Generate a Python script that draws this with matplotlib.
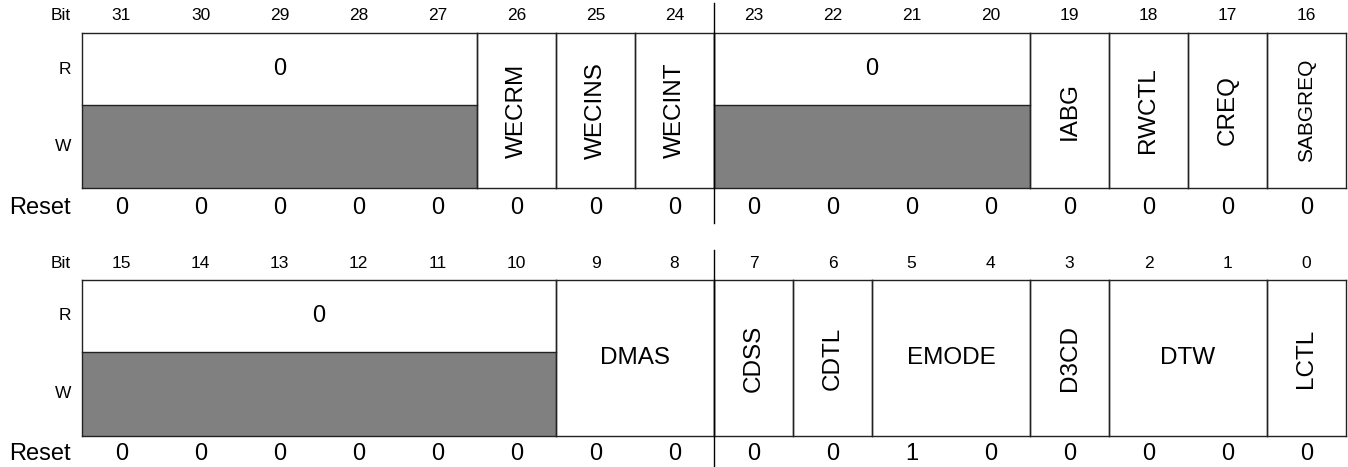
import matplotlib
matplotlib.use("Agg")
import matplotlib.pyplot as plt
from matplotlib.patches import Rectangle

plt.rcParams['font.family'] = ['Liberation Sans', 'DejaVu Sans']

# register fields, high half (bits 31..16)
hi_names = ["0", "WECRM", "WECINS", "WECINT", "0", "IABG", "RWCTL", "CREQ", "SABGREQ"]
hi_msb = [31, 26, 25, 24, 23, 19, 18, 17, 16]
hi_lsb = [27, 26, 25, 24, 20, 19, 18, 17, 16]
hi_reset = [0, 0, 0, 0, 0, 0, 0, 0, 0, 0, 0, 0, 0, 0, 0, 0]

# register fields, low half (bits 15..0)
lo_names = ["0", "DMAS", "CDSS", "CDTL", "EMODE", "D3CD", "DTW", "LCTL"]
lo_msb = [15, 9, 7, 6, 5, 3, 2, 0]
lo_lsb = [10, 8, 7, 6, 4, 3, 1, 0]
lo_reset = [0, 0, 0, 0, 0, 0, 0, 0, 0, 0, 1, 0, 0, 0, 0, 0]

X0 = 82
CW = 79
LINE = '#222222'
GRAY = '#808080'


def draw_register(ax, top_bit, names, msbs, lsbs, resets, ys):
    bit_y, top, mid, bot, reset_y, sep0, sep1 = ys

    def col_left(bit):
        return X0 + (top_bit - bit) * CW

    x_right = col_left(top_bit - 15) + CW

    # bit numbers and reset values
    for i in range(16):
        bit = top_bit - i
        cx = col_left(bit) + CW / 2
        ax.text(cx, bit_y, str(bit), ha='center', va='center', fontsize=12.5)
        ax.text(cx, reset_y, str(resets[i]), ha='center', va='center', fontsize=17)

    # row labels
    ax.text(71, bit_y, "Bit", ha='right', va='center', fontsize=12.5)
    ax.text(71, (top + mid) / 2, "R", ha='right', va='center', fontsize=12.5)
    ax.text(71, (mid + bot) / 2, "W", ha='right', va='center', fontsize=12.5)
    ax.text(71, reset_y, "Reset", ha='right', va='center', fontsize=17)

    for name, msb, lsb in zip(names, msbs, lsbs):
        x0 = col_left(msb)
        x1 = col_left(lsb) + CW
        cx = (x0 + x1) / 2
        if name == "0":
            ax.add_patch(Rectangle((x0, mid), x1 - x0, bot - mid,
                                   facecolor=GRAY, edgecolor='none'))
            ax.plot([x0, x1], [mid, mid], color=LINE, lw=1.0)
            ax.text(cx, (top + mid) / 2, "0", ha='center', va='center', fontsize=17)
        else:
            rot = 90 if msb == lsb else 0
            fs = 17.5 if len(name) <= 6 else 15
            ax.text(cx, (top + bot) / 2, name, ha='center', va='center',
                    rotation=rot, fontsize=fs)
        ax.plot([x0, x0], [top, bot], color=LINE, lw=1.0)
        ax.plot([x1, x1], [top, bot], color=LINE, lw=1.0)

    ax.plot([X0, x_right], [top, top], color=LINE, lw=1.0)
    ax.plot([X0, x_right], [bot, bot], color=LINE, lw=1.0)

    # byte separator
    xs = col_left(top_bit - 8)
    ax.plot([xs, xs], [sep0, sep1], color='black', lw=1.0)


fig = plt.figure(figsize=(13.48, 4.67), dpi=100)
ax = fig.add_axes([0, 0, 1, 1])
ax.set_xlim(0, 1348)
ax.set_ylim(467, 0)
ax.axis('off')

draw_register(ax, 31, hi_names, hi_msb, hi_lsb, hi_reset,
              (15, 33, 105, 188, 208, 3, 223))
draw_register(ax, 15, lo_names, lo_msb, lo_lsb, lo_reset,
              (263, 280, 352, 436, 454, 250, 467))

fig.savefig('out.png', dpi=100)
